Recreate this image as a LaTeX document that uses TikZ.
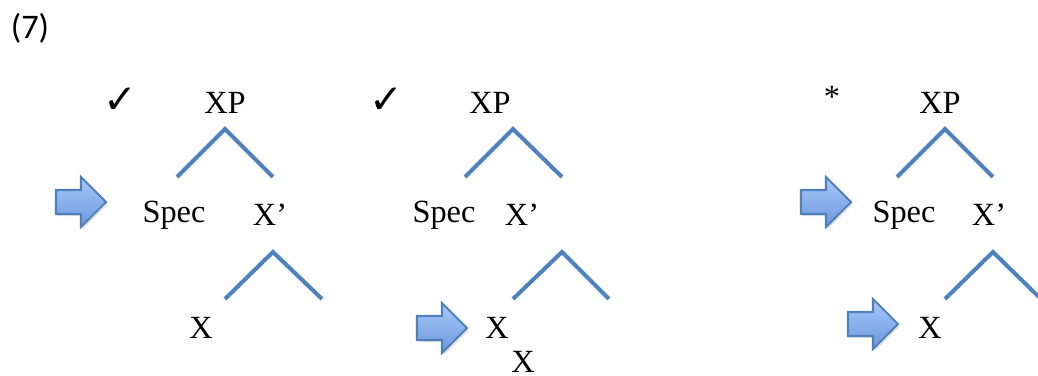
\documentclass[tikz,border=0pt]{standalone}
\usepackage{fontspec}
\setmainfont{Liberation Serif}
\newfontfamily\numfont{Carlito}
\newfontfamily\symfont{DejaVu Sans}
\usetikzlibrary{shadows}
\definecolor{branchblue}{RGB}{79,129,189}
\definecolor{arrowtop}{RGB}{168,200,248}
\definecolor{arrowbot}{RGB}{108,152,222}
\tikzset{
  blockarrow/.pic={
    \path[draw=branchblue,line width=0.6pt,top color=arrowtop,bottom color=arrowbot,
      drop shadow={shadow xshift=0.5pt,shadow yshift=-0.6pt,opacity=0.25}]
      (0,-12)--(25,-12)--(25,-25)--(50,0)--(25,25)--(25,12)--(0,12)--cycle;
  }
}
\begin{document}
\begin{tikzpicture}[x=0.01cm,y=-0.01cm,
    every node/.style={inner sep=0pt,font=\fontsize{9.2}{11}\selectfont},
    branch/.style={draw=branchblue,line width=1.15pt},
    okmark/.style={font=\fontsize{11.5}{13}\symfont\bfseries}]
  \useasboundingbox (0,0) rectangle (1038,376);
  \node (num) at (30,28) {\numfont\fontsize{9.8}{11}\selectfont (7)};
  % first tree
  \node[okmark] (ok1) at (120,101) {✓};
  \node (xp1)   at (225,103) {XP};
  \node (spec1) at (174,215) {Spec};
  \node (xb1)   at (270,215) {X’};
  \node (x1)    at (201,328) {X};
  \coordinate (t1) at (225,129);
  \coordinate (l1) at (177,177);
  \coordinate (r1) at (273,177);
  \coordinate (u1) at (273,252);
  \coordinate (v1) at (225,299);
  \coordinate (w1) at (322,299);
  \draw[branch] (l1)--(t1)--(r1);
  \draw[branch] (v1)--(u1)--(w1);
  \pic (pa1) at (56,202) {blockarrow};
  % second tree
  \node[okmark] (ok2) at (386,101) {✓};
  \node (xp2)   at (490,103) {XP};
  \node (spec2) at (444,215) {Spec};
  \node (xb2)   at (522,215) {X’};
  \node (x2)    at (497,328) {X};
  \node (x2b)   at (523,362) {X};
  \coordinate (t2) at (513,129);
  \coordinate (l2) at (465,177);
  \coordinate (r2) at (562,177);
  \coordinate (u2) at (562,252);
  \coordinate (v2) at (513,299);
  \coordinate (w2) at (609,299);
  \draw[branch] (l2)--(t2)--(r2);
  \draw[branch] (v2)--(u2)--(w2);
  \pic (pa2) at (417,328) {blockarrow};
  % third tree
  \node (bad3)  at (832,97) {*};
  \node (xp3)   at (940,103) {XP};
  \node (spec3) at (904,215) {Spec};
  \node (xb3)   at (989,215) {X’};
  \node (x3)    at (930,328) {X};
  \coordinate (t3) at (945,129);
  \coordinate (l3) at (897,177);
  \coordinate (r3) at (993,177);
  \coordinate (u3) at (993,252);
  \coordinate (v3) at (945,299);
  \coordinate (w3) at (1041,299);
  \draw[branch] (l3)--(t3)--(r3);
  \draw[branch] (v3)--(u3)--(w3);
  \pic (pa3) at (801,202) {blockarrow};
  \pic (pa4) at (848,324) {blockarrow};
\end{tikzpicture}
\end{document}
